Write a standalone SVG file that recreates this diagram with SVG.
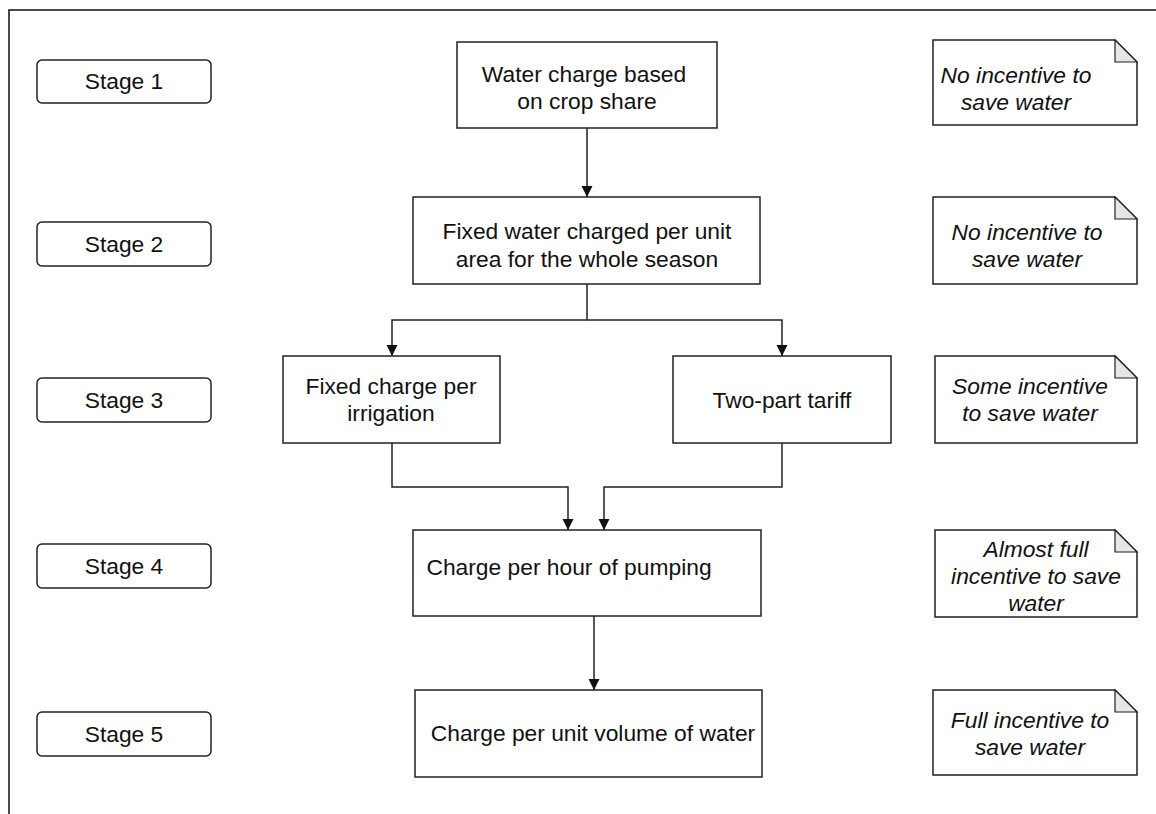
<svg xmlns="http://www.w3.org/2000/svg" width="1156" height="814" viewBox="0 0 1156 814">
<style>
.bg{fill:#fff}
.box{fill:#fff;stroke:#222;stroke-width:1.5}
.stage{fill:#fff;stroke:#222;stroke-width:1.5}
.fold{fill:#e6e6e6;stroke:#222;stroke-width:1.2}
.t{font-family:"Liberation Sans",Arial,sans-serif;font-size:22.8px;fill:#111;text-anchor:middle}
.i{font-style:italic}
.c{fill:none;stroke:#222;stroke-width:1.5}
.frame{fill:none;stroke:#111;stroke-width:1.5}
</style>
<defs>
<marker id="ah" markerUnits="userSpaceOnUse" markerWidth="12" markerHeight="12" refX="11" refY="5.5" orient="auto">
<path d="M0,0 L11,5.5 L0,11 z" fill="#111"/>
</marker>
</defs>
<rect class="bg" x="0" y="0" width="1156" height="814"/>
<path class="frame" d="M9,814 V10 H1156"/>

<g id="stage1"><rect class="stage" x="37" y="60" width="174" height="43" rx="5"/><text class="t" x="124" y="89">Stage 1</text></g>
<g id="stage2"><rect class="stage" x="37" y="222" width="174" height="44" rx="5"/><text class="t" x="124" y="252">Stage 2</text></g>
<g id="stage3"><rect class="stage" x="37" y="378" width="174" height="44" rx="5"/><text class="t" x="124" y="408">Stage 3</text></g>
<g id="stage4"><rect class="stage" x="37" y="544" width="174" height="44" rx="5"/><text class="t" x="124" y="574">Stage 4</text></g>
<g id="stage5"><rect class="stage" x="37" y="712" width="174" height="44" rx="5"/><text class="t" x="124" y="742">Stage 5</text></g>

<g id="box1"><rect class="box" x="457" y="42" width="260" height="86"/><text class="t" x="584" y="82">Water charge based</text><text class="t" x="587" y="109">on crop share</text></g>
<g id="box2"><rect class="box" x="413" y="197" width="347" height="87"/><text class="t" x="587" y="239">Fixed water charged per unit</text><text class="t" x="587" y="267">area for the whole season</text></g>
<g id="box3a"><rect class="box" x="283" y="356" width="217" height="87"/><text class="t" x="391" y="394">Fixed charge per</text><text class="t" x="391" y="421">irrigation</text></g>
<g id="box3b"><rect class="box" x="673" y="356" width="218" height="87"/><text class="t" x="782" y="408">Two-part tariff</text></g>
<g id="box4"><rect class="box" x="413" y="530" width="348" height="86"/><text class="t" x="569" y="575">Charge per hour of pumping</text></g>
<g id="box5"><rect class="box" x="415" y="690" width="347" height="87"/><text class="t" x="593" y="741">Charge per unit volume of water</text></g>

<g id="note1"><path class="box" d="M933,40 H1115 L1137,62 V125 H933 Z"/><path class="fold" d="M1115,40 V62 H1137 Z"/><text class="t i" x="1016" y="83">No incentive to</text><text class="t i" x="1016" y="110">save water</text></g>
<g id="note2"><path class="box" d="M933,197 H1115 L1137,219 V284 H933 Z"/><path class="fold" d="M1115,197 V219 H1137 Z"/><text class="t i" x="1027" y="240">No incentive to</text><text class="t i" x="1027" y="267">save water</text></g>
<g id="note3"><path class="box" d="M935,356 H1115 L1137,378 V443 H935 Z"/><path class="fold" d="M1115,356 V378 H1137 Z"/><text class="t i" x="1030" y="394">Some incentive</text><text class="t i" x="1030" y="421">to save water</text></g>
<g id="note4"><path class="box" d="M935,530 H1115 L1137,552 V617 H935 Z"/><path class="fold" d="M1115,530 V552 H1137 Z"/><text class="t i" x="1036" y="557">Almost full</text><text class="t i" x="1036" y="584">incentive to save</text><text class="t i" x="1036" y="611">water</text></g>
<g id="note5"><path class="box" d="M933,690 H1115 L1137,712 V775 H933 Z"/><path class="fold" d="M1115,690 V712 H1137 Z"/><text class="t i" x="1030" y="728">Full incentive to</text><text class="t i" x="1030" y="755">save water</text></g>

<g id="connectors">
<path class="c" d="M587,128 V197" marker-end="url(#ah)"/>
<path class="c" d="M587,284 V320 H392 V356" marker-end="url(#ah)"/>
<path class="c" d="M587,320 H782 V356" marker-end="url(#ah)"/>
<path class="c" d="M392,443 V487 H568 V530" marker-end="url(#ah)"/>
<path class="c" d="M782,443 V487 H604 V530" marker-end="url(#ah)"/>
<path class="c" d="M594,616 V690" marker-end="url(#ah)"/>
</g>
</svg>
